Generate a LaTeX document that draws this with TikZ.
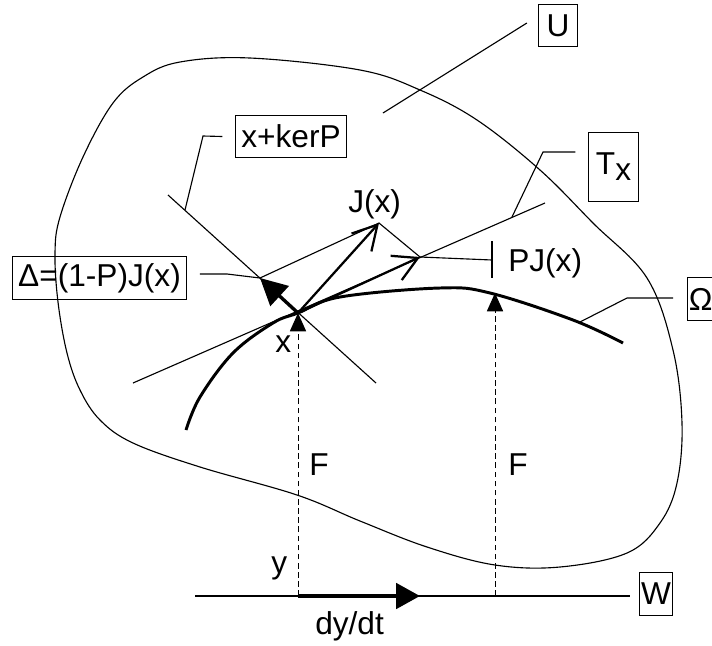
\documentclass[tikz,border=0pt]{standalone}
\usepackage{fontspec}
\setmainfont{Liberation Sans}
\usetikzlibrary{arrows.meta,calc}

\begin{document}
\begin{tikzpicture}[x=0.025cm,y=-0.025cm,font=\fontsize{22.5}{27}\selectfont,
  fine/.style={line width=0.8pt},
  lbl/.style={draw,line width=0.6pt,inner xsep=4pt,inner ysep=2pt,minimum height=30pt},
  fdash/.style={line width=0.7pt,dash pattern=on 4pt off 2.5pt,-{Triangle[length=13pt,width=11.5pt]}},
  vecbarb/.style={line width=1.6pt,-{Straight Barb[length=17pt,width=19pt,line width=1.6pt]}}]
\useasboundingbox (0,0) rectangle (712,646);

% region U
\draw[fine] plot[smooth cycle,tension=0.6] coordinates {(360,70) (420,90) (477,120) (540,170)
  (593,223) (647,278) (673,350) (682,423) (677,483) (660,523) (627,553) (560,567) (495,565)
  (427,547) (360,521) (297,495) (200,467) (133,443) (100,420) (80,390) (67,353) (58,302)
  (55,253) (60,217) (83,157) (113,103) (143,77) (180,62) (250,58)};

% points
\coordinate (x0) at (298,313);
\coordinate (jtip) at (379,223);
\coordinate (pjtip) at (420,257);
\coordinate (dtip) at (260,278);
\coordinate (om1) at (495,293);
\coordinate (y0) at (298,596);
\coordinate (y1) at (495,596);
\coordinate (dyt) at (420,596);
\coordinate (wa) at (195,596);
\coordinate (wb) at (630,596);
\coordinate (ka) at (168,195);
\coordinate (kb) at (376,383);
\coordinate (ta) at (133,383);
\coordinate (tb) at (545,203);
\coordinate (pjbar) at (492,260);

% manifold Omega
\draw[line width=2.1pt] plot[smooth,tension=0.6] coordinates {(186,430) (200,397) (233,353)
  (273,323) (298,313) (340,297) (440,288) (490,293) (573,320) (623,343)};

% x+kerP and T_x
\draw[fine] (ka) -- (kb);
\draw[fine] (ta) -- (tb);
\draw[fine] (dtip) -- (jtip) -- (pjtip);

% vectors
\draw[vecbarb] (x0) -- (jtip);
\draw[vecbarb] (x0) -- (pjtip);
\draw[line width=2.4pt,-{Triangle[length=19pt,width=19pt]}] (x0) -- (dtip);

% F
\draw[fdash] (y0) -- (x0);
\draw[fdash] (y1) -- (om1);

% W
\draw[line width=1.4pt] (wa) -- (wb);
\draw[line width=2.8pt,-{Triangle[length=17pt,width=18pt]}] (y0) -- (dyt);

% labels
\node[lbl,minimum width=28pt] (lu) at (558,25.5) {U};
\node[lbl] (lk) at (291,136.5) {x+kerP};
\node[lbl,minimum width=35pt,minimum height=49pt] (lt) at (613.5,166.5) {T\raisebox{-0.19em}{x}};
\node[lbl] (ld) at (99.5,278) {Δ=(1-P)J(x)};
\node[lbl,inner xsep=1pt] (lw) at (656,594) {W};
\node[lbl,inner xsep=1pt,anchor=west] (lo) at (687,299) {Ω};
\node[anchor=base west,inner sep=0pt] (lj) at (348,212) {J(x)};
\node[anchor=base west,inner sep=0pt] (lpj) at (508,271) {PJ(x)};
\node[anchor=base west,inner sep=0pt] (lx) at (275,352) {x};
\node[anchor=base west,inner sep=0pt] (ly) at (271,573) {y};
\node[anchor=base west,inner sep=0pt] (lf1) at (309,475) {F};
\node[anchor=base west,inner sep=0pt] (lf2) at (508,475) {F};
\node[anchor=base west,inner sep=0pt] (ldy) at (315,634) {dy/dt};

% leaders
\draw[fine] (383,113) -- ($(lu.west)+(-11,-2.5)$);
\draw[fine] (185,210) -- (203,136) -- ($(lk.west)+(-13,0)$);
\draw[fine] (512,217) -- (543,152) -- ($(lt.west)+(-13,-14.5)$);
\draw[fine] (580,322) -- (627,298) -- ($(lo.west)+(-14,-1)$);
\draw[fine] (dtip) -- (227,274) -- ($(ld.east)+(13,-4)$);
\draw[fine] (pjtip) -- (pjbar);
\draw[fine] ($(pjbar)+(0,-19)$) -- ($(pjbar)+(0,18)$);
\end{tikzpicture}
\end{document}
